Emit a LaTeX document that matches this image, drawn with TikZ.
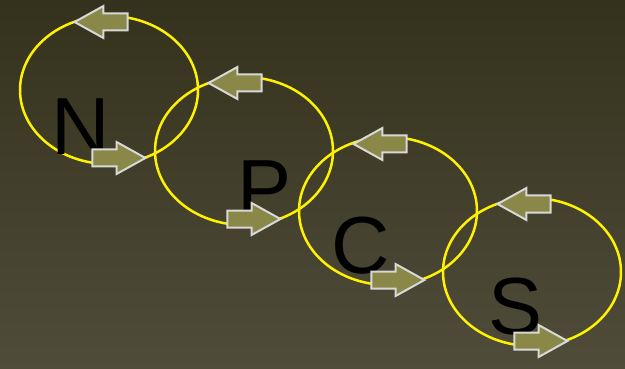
\documentclass[tikz,border=0pt]{standalone}
\usepackage{fontspec}
\setmainfont{Liberation Sans}
\usetikzlibrary{shapes.geometric,shapes.arrows}
\definecolor{bgtop}{RGB}{52,49,28}
\definecolor{bgbot}{RGB}{79,77,58}
\definecolor{arrfill}{RGB}{138,136,72}
\definecolor{arrline}{RGB}{216,216,216}
\tikzset{
  ring/.style={draw=yellow, line width=2.5pt, ellipse, inner sep=0pt, minimum width=178pt, minimum height=148pt},
  fatarrow/.style={single arrow, draw=arrline, fill=arrfill, line width=2pt, inner xsep=0pt, inner ysep=7.5pt,
    minimum height=53pt, single arrow head extend=7.5pt,
    single arrow tip angle=58, single arrow head indent=0pt, anchor=tip},
  leftarr/.style={fatarrow, shape border rotate=180},
  letter/.style={font=\fontsize{81}{81}\selectfont, text=black, inner sep=0pt, anchor=base}
}
\begin{document}
\begin{tikzpicture}[x=1pt,y=-1pt]
\shade[top color=bgtop, bottom color=bgbot] (0,0) rectangle (625,369);
\useasboundingbox (0,0) rectangle (625,369);
\node[ring] (e1) at (109,90) {};
\node[ring] (e2) at (244,151) {};
\node[ring] (e3) at (388,211) {};
\node[ring] (e4) at (532,272) {};
\node[letter] (n) at (81,155) {N};
\node[letter] (p) at (265,217) {P};
\node[letter] (c) at (361,273) {C};
\node[letter] (s) at (516,334) {S};
\node[leftarr] (l1) at (72.5,22) {};
\node[leftarr] (l2) at (206.5,83) {};
\node[leftarr] (l3) at (351.5,144) {};
\node[leftarr] (l4) at (495.5,204) {};
\node[fatarrow] (r1) at (147.5,158) {};
\node[fatarrow] (r2) at (282.5,219) {};
\node[fatarrow] (r3) at (426.5,280) {};
\node[fatarrow] (r4) at (569.5,341) {};
\end{tikzpicture}
\end{document}
